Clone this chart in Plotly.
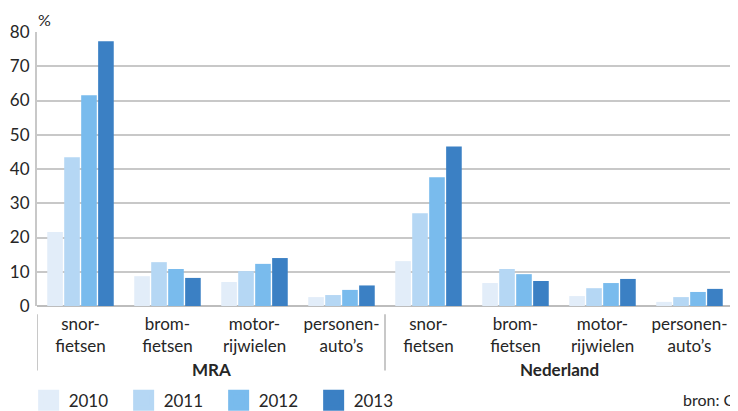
import plotly.graph_objects as go

regions = ["MRA", "Nederland"]
vehicles = ["snor-<br>fietsen", "brom-<br>fietsen", "motor-<br>rijwielen", "personen-<br>auto’s"]
years = ["2010", "2011", "2012", "2013"]

# percentages per year: MRA (4 vehicle types) then Nederland (4 vehicle types)
v2010 = [21.6, 8.7, 7.0, 2.6, 13.1, 6.7, 2.9, 1.2]
v2011 = [43.4, 12.8, 10.2, 3.2, 27.1, 10.8, 5.2, 2.6]
v2012 = [61.5, 10.8, 12.3, 4.7, 37.6, 9.3, 6.7, 4.1]
v2013 = [77.3, 8.2, 14.0, 6.0, 46.6, 7.3, 7.9, 5.0]

colors = ["#e2edf9", "#b5d7f4", "#79bbed", "#3b80c4"]
font = "Lato, 'Open Sans', sans-serif"
txt = "#262626"
grid = "#c8c8c8"

nv = len(vehicles)
xpos = list(range(len(regions) * nv))
labels = vehicles * len(regions)

fig = go.Figure()
for yr, vals, c in zip(years, [v2010, v2011, v2012, v2013], colors):
    fig.add_trace(go.Bar(x=xpos, y=vals, name=yr, showlegend=False,
                         marker=dict(color=c, line=dict(width=0))))
    # legend swatch only (big squares like the original)
    fig.add_trace(go.Scatter(x=[None], y=[None], mode="markers", name=yr,
                             marker=dict(symbol="square", size=16, color=c,
                                         line=dict(color=c, width=5))))

# page body has an 8px margin, so the figure sits 8px right/down in the window
fig.update_layout(
    width=738, height=411,
    margin=dict(l=29, r=13, t=24, b=113, autoexpand=False),
    plot_bgcolor="white", paper_bgcolor="white",
    font=dict(family=font, size=17, color=txt),
    barmode="group", bargap=0.22, bargroupgap=0.08,
    showlegend=True,
    legend=dict(orientation="h", x=-0.012, xanchor="left", y=-0.28, yanchor="top",
                entrywidth=50, font=dict(size=17, color=txt), itemsizing="trace"),
)
fig.update_yaxes(range=[0, 80], dtick=10, showgrid=True, gridcolor=grid, gridwidth=2,
                 showline=True, linecolor=grid, linewidth=2, mirror=True,
                 zeroline=True, zerolinecolor="#bdbdbd", zerolinewidth=2,
                 ticks="", ticklabelstandoff=2, tickfont=dict(size=17, color=txt),
                 automargin=False)
fig.update_xaxes(range=[-0.5, len(xpos) - 0.5], tickvals=xpos, ticktext=labels,
                 ticks="", showgrid=False, showline=False, zeroline=False,
                 ticklabelstandoff=6,
                 tickfont=dict(size=17, color=txt), automargin=False)

# group dividers and group labels
for g in range(len(regions) + 1):
    fig.add_shape(type="line", xref="x", yref="paper", x0=g * nv - 0.5, x1=g * nv - 0.5,
                  y0=-0.03, y1=-0.235, line=dict(color=grid, width=2))
for g, r in enumerate(regions):
    fig.add_annotation(text="<b>" + r + "</b>", xref="x", yref="paper", x=g * nv + (nv - 1) / 2,
                       y=-0.23, yanchor="middle", showarrow=False,
                       font=dict(size=17, color=txt))

fig.add_annotation(text="%", xref="paper", yref="paper", x=-0.001, y=1.0, xanchor="left",
                   yanchor="bottom", yshift=1, showarrow=False, font=dict(size=16, color=txt))
fig.add_annotation(text="bron: CBS", xref="paper", yref="paper", x=0.925, y=-0.3,
                   xanchor="left", yanchor="top", showarrow=False, font=dict(size=16, color=txt))

fig.write_html("out.html")
